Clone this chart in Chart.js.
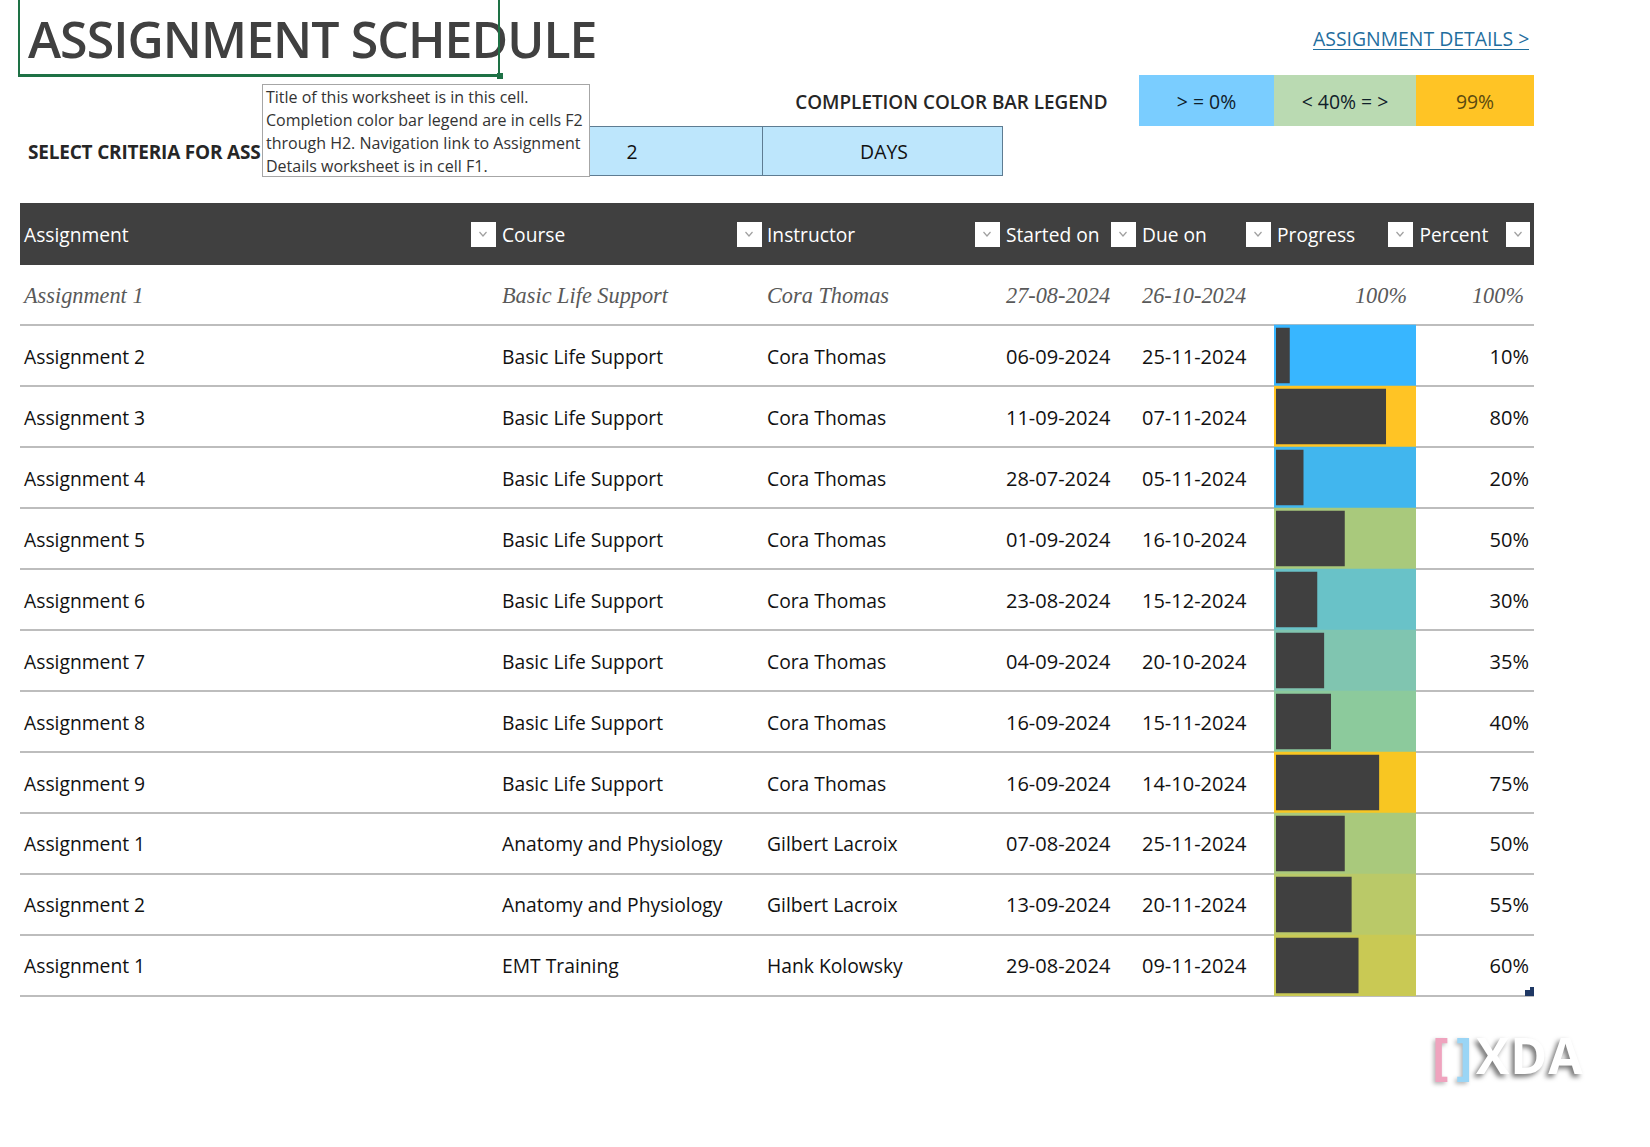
<!DOCTYPE html>
<html><head><meta charset="utf-8">
<script src="https://cdn.jsdelivr.net/npm/chart.js@4"></script>
<style>
html,body{margin:0;padding:0;background:#fff;width:1650px;height:1147px;overflow:hidden}
body{font-family:"Open Sans",sans-serif;color:#111;position:relative}
.t{position:absolute;white-space:nowrap;line-height:1}
.box{position:absolute;box-sizing:border-box}
#chartWrap{position:absolute;left:1274px;top:264px;width:142px;height:732px}
.serif{font-family:"Liberation Serif",serif;font-style:italic;color:#595959}
</style></head><body>
<div id="root"></div>
<div id="chartWrap"><canvas id="c" width="142" height="732"></canvas></div>
<script>
const titleText = "ASSIGNMENT SCHEDULE";
const linkText = "ASSIGNMENT DETAILS >";
const legendTitle = "COMPLETION COLOR BAR LEGEND";
const legendLabels = ["> = 0%", "< 40% = >", "99%"];
const legendColors = ["#7ACDFF", "#BADAB2", "#FFC425"];
const criteriaLabel = "SELECT CRITERIA FOR ASS";
const criteriaValues = ["2", "DAYS"];
const noteLines = ["Title of this worksheet is in this cell.", "Completion color bar legend are in cells F2", "through H2. Navigation link to Assignment", "Details worksheet is in cell F1."];
const headers = ["Assignment", "Course", "Instructor", "Started on", "Due on", "Progress", "Percent"];
const assignments = ["Assignment 1","Assignment 2","Assignment 3","Assignment 4","Assignment 5","Assignment 6","Assignment 7","Assignment 8","Assignment 9","Assignment 1","Assignment 2","Assignment 1"];
const courses = ["Basic Life Support","Basic Life Support","Basic Life Support","Basic Life Support","Basic Life Support","Basic Life Support","Basic Life Support","Basic Life Support","Basic Life Support","Anatomy and Physiology","Anatomy and Physiology","EMT Training"];
const instructors = ["Cora Thomas","Cora Thomas","Cora Thomas","Cora Thomas","Cora Thomas","Cora Thomas","Cora Thomas","Cora Thomas","Cora Thomas","Gilbert Lacroix","Gilbert Lacroix","Hank Kolowsky"];
const startedOn = ["27-08-2024","06-09-2024","11-09-2024","28-07-2024","01-09-2024","23-08-2024","04-09-2024","16-09-2024","16-09-2024","07-08-2024","13-09-2024","29-08-2024"];
const dueOn = ["26-10-2024","25-11-2024","07-11-2024","05-11-2024","16-10-2024","15-12-2024","20-10-2024","15-11-2024","14-10-2024","25-11-2024","20-11-2024","09-11-2024"];
const percent = [100,10,80,20,50,30,35,40,75,50,55,60];
// The first row is complete: it shows "100%" as text and has no bar.
const progress = [null,10,80,20,50,30,35,40,75,50,55,60];
const barColors = [null,"#38B6FF","#FFC425","#41B6EE","#A9C97C","#69C2C8","#80C5B0","#8CCA9C","#F8C622","#A9C97C","#BAC968","#C9C954"];

const root = document.getElementById('root');
function text(s,x,y,size,opt={}){
  const d=document.createElement('div');d.className='t '+(opt.cls||'');d.textContent=s;
  d.style.top=(y-size/2)+'px';d.style.fontSize=size+'px';
  if(opt.right!==undefined){d.style.right=(1650-opt.right)+'px'}
  else if(opt.center){d.style.left=x+'px';d.style.transform='translateX(-50%)'}
  else d.style.left=x+'px';
  if(opt.color)d.style.color=opt.color; if(opt.weight)d.style.fontWeight=opt.weight;
  if(opt.z)d.style.zIndex=opt.z; if(opt.ls)d.style.letterSpacing=opt.ls;
  root.appendChild(d);return d;
}
function box(x,y,w,h,css){const d=document.createElement('div');d.className='box';
  d.style.cssText+=`left:${x}px;top:${y}px;width:${w}px;height:${h}px;`+(css||'');root.appendChild(d);return d;}

// title + selection
text(titleText,28,39,50,{color:'#404040',weight:600,ls:'-0.95px'});
box(18,-6,482,83,'border:2.5px solid #1E7145;border-bottom-width:3px;');
box(497,73,6,6,'background:#1E7145;');
// link
text(linkText,1313,39,19.4,{color:'#1F6E9E'});
box(1313,48.5,216,1.5,'background:#1F6E9E;');
// legend
text(legendTitle,0,102,18.9,{right:1107.5,color:'#262626',weight:600});
const legX=[1139,1274,1416,1534];
legendLabels.forEach((s,i)=>{
  box(legX[i],75,legX[i+1]-legX[i],51,'background:'+legendColors[i]);
  text(s,(legX[i]+legX[i+1])/2,102,19.4,{center:true,color:i==2?'#5a4a10':'#10202a'});
});
// criteria
text(criteriaLabel,28,152,19,{color:'#262626',weight:700,ls:'-0.2px'});
box(500,126,263,50,'background:#BDE6FC;border:1.5px solid #5E7C92;');
box(763,126,240,50,'background:#BDE6FC;border:1.5px solid #5E7C92;border-left:0;');
text(criteriaValues[0],632,152,19.4,{center:true});
text(criteriaValues[1],884,152,19.4,{center:true});
// note
box(262,84,328,93,'background:#fff;border:1.5px solid #A6A6A6;z-index:5;');
noteLines.forEach((s,i)=>text(s,266,97+i*23,16,{color:'#333',z:6}));
// header
const colX=[24,502,767,1006,1142,1277,1419.5];
const btnX=[471,737,975,1111,1246,1388,1505.5];
box(20,203,1514,62,'background:#404040;');
headers.forEach((s,i)=>{
  text(s,colX[i],235,19.2,{color:'#fff'});
  const b=box(btnX[i],222,24.5,24.5,'background:#fff;');
  b.innerHTML='<svg width="24" height="24" style="display:block"><path d="M8.5 10 L12 14 L15.5 10" stroke="#A0A0A0" stroke-width="1.2" fill="none"/></svg>';
});
// rows
const rowTop=264,rowH=61;
assignments.forEach((a,i)=>{
  const it=i==0;
  const y=Math.round(rowTop+rowH*i+rowH/2+1-(i>=9?1:0)+0.5)+(it?0.3:0);
  box(20,rowTop+rowH*(i+1)-1,1514,2,'background:#BDBDBD;');
  const cls=it?'serif':'';
  const sz=it?22.3:19.3;
  const num=it?22.3:20;
  text(a,colX[0],y,sz,{cls});
  text(courses[i],colX[1],y,sz,{cls});
  text(instructors[i],colX[2],y,sz,{cls});
  text(startedOn[i],colX[3],y,num,{cls});
  text(dueOn[i],colX[4],y,num,{cls});
  if(it) text(percent[i]+'%',0,y,num,{cls,right:1407});
  text(percent[i]+'%',0,y,num,{cls,right:it?1524:1529});
});
// table corner marker
box(1525,990,9,6,'background:#1F3864;');
box(1530,987,4,3,'background:#1F3864;');
// watermark
const wm=text('XDA',1476,1055,50,{color:'#fff',weight:700,ls:'1px'});
wm.style.textShadow='-3px 3px 5px rgba(0,0,0,.55)';
const br=text('[',1432,1055,50,{color:'#EFA3BE',weight:700});br.style.textShadow='-2px 2px 4px rgba(0,0,0,.3)';
const br2=text(']',1456,1055,50,{color:'#9AD5F5',weight:700});br2.style.textShadow='-2px 2px 4px rgba(0,0,0,.3)';

// progress bars
const axisMin=-1.45, axisMax=101.8;
new Chart(document.getElementById('c'),{
  type:'bar',
  data:{labels:assignments.map((a,i)=>i+' '+a),datasets:[
    {label:'Percent',data:progress,backgroundColor:'#404040',barPercentage:0.91,categoryPercentage:1,order:1,borderSkipped:false},
    {label:'Cell',data:progress.map(v=>v===null?null:[axisMin,axisMax]),backgroundColor:barColors,barPercentage:1,categoryPercentage:1,order:2,borderSkipped:false}
  ]},
  options:{indexAxis:'y',responsive:false,animation:false,devicePixelRatio:1,
    layout:{padding:0},
    plugins:{legend:{display:false},tooltip:{enabled:false}},
    scales:{
      x:{type:'linear',display:false,min:axisMin,max:axisMax,stacked:false,grid:{display:false}},
      y:{type:'category',display:false,stacked:true,grid:{display:false}}
    }}
});
</script></body></html>
